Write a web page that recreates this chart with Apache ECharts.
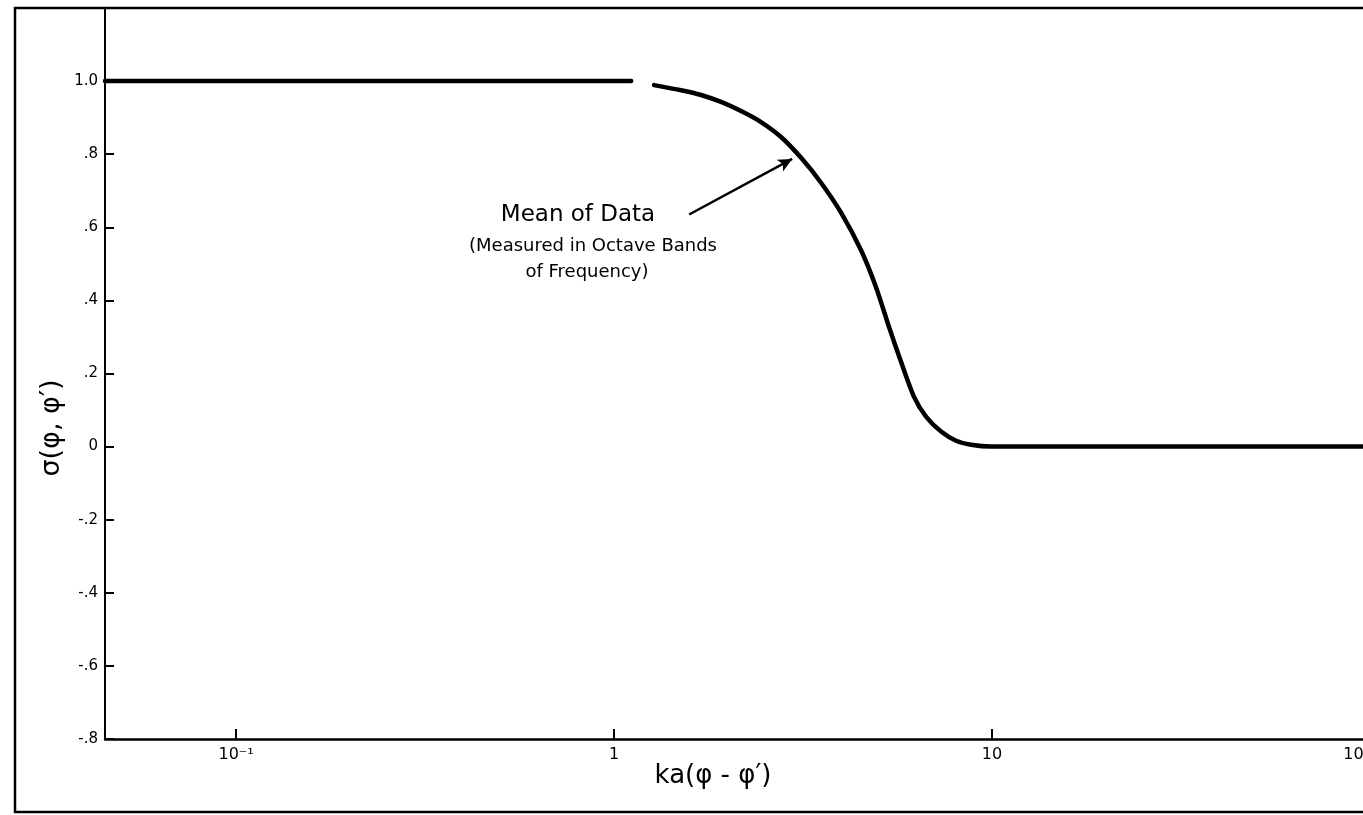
<!DOCTYPE html>
<html>
<head>
<meta charset="utf-8">
<script src="https://cdn.jsdelivr.net/npm/echarts@6/dist/echarts.min.js"></script>
<style>
html,body{margin:0;padding:0;background:#fff;}
#chart{width:1363px;height:815px;}
</style>
</head>
<body>
<div id="chart"></div>
<script>
// Curve: x = ka(φ-φ'), y = σ(φ,φ'); '-' marks the small gap in the printed line
const xValues = [0.045, 0.1, 0.3, 0.7, 1.11, 1.2, 1.276, 1.504, 1.699, 1.919, 2.168, 2.448, 2.766, 3.125, 3.529, 3.986, 4.503, 4.933, 5.340, 5.744, 6.218, 6.689, 7.332, 8.031, 8.800, 9.94, 20, 50, 100];
const yValues = [1.0, 1.0, 1.0, 1.0, 1.0, '-', 0.989, 0.975, 0.962, 0.943, 0.918, 0.888, 0.847, 0.790, 0.722, 0.640, 0.537, 0.436, 0.327, 0.232, 0.136, 0.082, 0.041, 0.016, 0.005, 0.0, 0.0, 0.0, 0.0];

const yTickValues = [-0.8, -0.6, -0.4, -0.2, 0, 0.2, 0.4, 0.6, 0.8, 1.0];
const yTickLabels = ['-.8', '-.6', '-.4', '-.2', '0', '.2', '.4', '.6', '.8', '1.0'];
const xTickExponents = [-1, 0, 1, 2];
const xTickLabels = ['10⁻¹', '1', '10', '10²'];

// Annotation arrow (data coordinates) and text
const arrowFrom = [1.58, 0.635];
const arrowTo = [2.96, 0.787];
const noteLines = ['Mean of Data', '(Measured in Octave Bands', 'of Frequency)'];

const FONT = 'DejaVu Sans';
const chart = echarts.init(document.getElementById('chart'));

const seriesData = xValues.map((x, i) => [x, yValues[i]]);

const option = {
  animation: false,
  backgroundColor: '#ffffff',
  grid: { left: 105, right: -7, top: 8, bottom: 76, containLabel: false, outerBoundsMode: 'none' },
  xAxis: {
    type: 'log',
    logBase: 10,
    min: 0.045,
    max: 100,
    axisLine: { show: true, onZero: false, lineStyle: { color: '#000', width: 2.5 } },
    axisTick: { show: true, inside: true, length: 10, lineStyle: { color: '#000', width: 2 } },
    minorTick: { show: false },
    splitLine: { show: false },
    axisLabel: {
      color: '#000',
      fontFamily: FONT,
      fontSize: 16,
      margin: 8,
      alignMaxLabel: 'right',
      formatter: function (v) {
        const e = Math.log10(v);
        const r = Math.round(e);
        if (Math.abs(e - r) > 1e-6) return '';
        const idx = xTickExponents.indexOf(r);
        return idx >= 0 ? xTickLabels[idx] : '';
      }
    }
  },
  yAxis: {
    type: 'value',
    min: -0.8,
    max: 1.2,
    interval: 0.2,
    axisLine: { show: true, onZero: false, lineStyle: { color: '#000', width: 2 } },
    axisTick: { show: true, inside: true, length: 9, lineStyle: { color: '#000', width: 2 } },
    splitLine: { show: false },
    axisLabel: {
      color: '#000',
      fontFamily: FONT,
      fontSize: 15,
      margin: 7,
      formatter: function (v) {
        for (let i = 0; i < yTickValues.length; i++) {
          if (Math.abs(yTickValues[i] - v) < 1e-6) return yTickLabels[i];
        }
        return '';
      }
    }
  },
  series: [{
    type: 'line',
    data: seriesData,
    smooth: 0.25,
    connectNulls: false,
    showSymbol: false,
    symbol: 'none',
    lineStyle: { color: '#000', width: 4.5, cap: 'round', join: 'round' },
    markLine: {
      silent: true,
      symbol: ['none', 'arrow'],
      symbolSize: [10, 14],
      label: { show: false },
      lineStyle: { color: '#000', width: 2.5, type: 'solid' },
      data: [[{ coord: arrowFrom }, { coord: arrowTo }]]
    }
  }],
  graphic: [
    {
      type: 'rect', silent: true, z: 100,
      shape: { x: 15, y: 8, width: 1400, height: 804 },
      style: { fill: 'none', stroke: '#000', lineWidth: 2.5 }
    },
    {
      type: 'text', x: 52, y: 428, rotation: Math.PI / 2,
      style: { text: 'σ(φ, φ′)', font: '27px "' + FONT + '"', fill: '#000', align: 'center', verticalAlign: 'middle' }
    },
    {
      type: 'text', x: 713, y: 776,
      style: { text: 'ka(φ - φ′)', font: '26px "' + FONT + '"', fill: '#000', align: 'center', verticalAlign: 'middle' }
    },
    {
      type: 'text', x: 578, y: 215,
      style: { text: noteLines[0], font: '23px "' + FONT + '"', fill: '#000', align: 'center', verticalAlign: 'middle' }
    },
    {
      type: 'text', x: 593, y: 246,
      style: { text: noteLines[1], font: '18px "' + FONT + '"', fill: '#000', align: 'center', verticalAlign: 'middle' }
    },
    {
      type: 'text', x: 587, y: 272,
      style: { text: noteLines[2], font: '18px "' + FONT + '"', fill: '#000', align: 'center', verticalAlign: 'middle' }
    }
  ]
};

chart.setOption(option);
</script>
</body>
</html>
